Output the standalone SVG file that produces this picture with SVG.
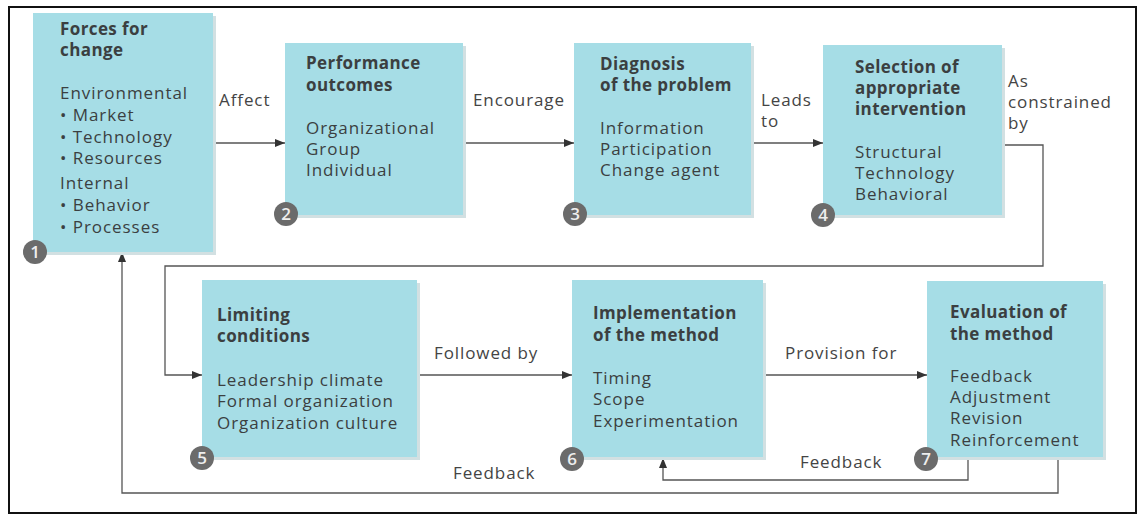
<svg xmlns="http://www.w3.org/2000/svg" width="1141" height="516" viewBox="0 0 1141 516">
<defs>
<style>
.box{fill:#a6dde6;}
.shadow{fill:#d2e0e2;}
.t{font-family:"Open Sans","Noto Sans",sans-serif;font-size:17px;letter-spacing:0.95px;fill:#3b3f41;}
.b{font-weight:bold;letter-spacing:0.4px;}
.lbl{font-family:"Open Sans","Noto Sans",sans-serif;font-size:17px;letter-spacing:0.9px;fill:#444;}
.num{fill:#6b6b6b;}
.nt{font-family:"Open Sans","Noto Sans",sans-serif;font-size:17px;font-weight:600;fill:#eeeeee;text-anchor:middle;}
.c{fill:none;stroke:#555;stroke-width:1.3;}
</style>
<marker id="ah" viewBox="0 0 10 8" refX="10" refY="4" markerWidth="10" markerHeight="8" markerUnits="userSpaceOnUse" orient="auto">
<path d="M0,0 L10,4 L0,8 z" fill="#333"/>
</marker>
</defs>
<rect x="9" y="7" width="1127" height="506" fill="#fff" stroke="#111" stroke-width="2"/>

<g id="connectors">
<line class="c" x1="213" y1="143" x2="285" y2="143" marker-end="url(#ah)"/>
<line class="c" x1="463" y1="143" x2="574" y2="143" marker-end="url(#ah)"/>
<line class="c" x1="751" y1="143" x2="823" y2="143" marker-end="url(#ah)"/>
<polyline class="c" points="1002,145 1043,145 1043,266 165,266 165,375 202,375" marker-end="url(#ah)"/>
<line class="c" x1="417" y1="375" x2="572" y2="375" marker-end="url(#ah)"/>
<line class="c" x1="763" y1="375" x2="927" y2="375" marker-end="url(#ah)"/>
<polyline class="c" points="968,457 968,480 663,480 663,458" marker-end="url(#ah)"/>
<polyline class="c" points="1058,457 1058,493 122,493 122,252" marker-end="url(#ah)"/>
<text class="lbl" x="219" y="106">Affect</text>
<text class="lbl" x="473" y="106">Encourage</text>
<text class="lbl" x="761" y="106">Leads</text>
<text class="lbl" x="761" y="127">to</text>
<text class="lbl" x="1008" y="87">As</text>
<text class="lbl" x="1008" y="108">constrained</text>
<text class="lbl" x="1008" y="129">by</text>
<text class="lbl" x="434" y="359">Followed by</text>
<text class="lbl" x="785" y="359">Provision for</text>
<text class="lbl" x="800" y="468">Feedback</text>
<text class="lbl" x="453" y="479">Feedback</text>
</g>

<g id="node1">
<rect class="shadow" x="36" y="16" width="180" height="239"/>
<rect class="box" x="33" y="13" width="180" height="239"/>
<text class="t b" x="60" y="35">Forces for</text>
<text class="t b" x="60" y="56">change</text>
<text class="t" x="60" y="99">Environmental</text>
<text class="t" x="60" y="121">• Market</text>
<text class="t" x="60" y="143">• Technology</text>
<text class="t" x="60" y="164">• Resources</text>
<text class="t" x="60" y="189">Internal</text>
<text class="t" x="60" y="211">• Behavior</text>
<text class="t" x="60" y="233">• Processes</text>
<circle class="num" cx="35" cy="252" r="12"/>
<text class="nt" x="35" y="258">1</text>
</g>

<g id="node2">
<rect class="shadow" x="288" y="46" width="178" height="172"/>
<rect class="box" x="285" y="43" width="178" height="172"/>
<text class="t b" x="306" y="69">Performance</text>
<text class="t b" x="306" y="91">outcomes</text>
<text class="t" x="306" y="134">Organizational</text>
<text class="t" x="306" y="155">Group</text>
<text class="t" x="306" y="176">Individual</text>
<circle class="num" cx="286" cy="214" r="12"/>
<text class="nt" x="286" y="220">2</text>
</g>

<g id="node3">
<rect class="shadow" x="577" y="46" width="177" height="172"/>
<rect class="box" x="574" y="43" width="177" height="172"/>
<text class="t b" x="600" y="70">Diagnosis</text>
<text class="t b" x="600" y="91">of the problem</text>
<text class="t" x="600" y="134">Information</text>
<text class="t" x="600" y="155">Participation</text>
<text class="t" x="600" y="176">Change agent</text>
<circle class="num" cx="575" cy="214" r="12"/>
<text class="nt" x="575" y="220">3</text>
</g>

<g id="node4">
<rect class="shadow" x="826" y="48" width="179" height="170"/>
<rect class="box" x="823" y="45" width="179" height="170"/>
<text class="t b" x="855" y="73">Selection of</text>
<text class="t b" x="855" y="94">appropriate</text>
<text class="t b" x="855" y="115">intervention</text>
<text class="t" x="855" y="158">Structural</text>
<text class="t" x="855" y="179">Technology</text>
<text class="t" x="855" y="200">Behavioral</text>
<circle class="num" cx="823" cy="215" r="12"/>
<text class="nt" x="823" y="221">4</text>
</g>

<g id="node5">
<rect class="shadow" x="205" y="283" width="215" height="177"/>
<rect class="box" x="202" y="280" width="215" height="177"/>
<text class="t b" x="217" y="321">Limiting</text>
<text class="t b" x="217" y="342">conditions</text>
<text class="t" x="217" y="386">Leadership climate</text>
<text class="t" x="217" y="407">Formal organization</text>
<text class="t" x="217" y="429">Organization culture</text>
<circle class="num" cx="202" cy="458" r="12"/>
<text class="nt" x="202" y="464">5</text>
</g>

<g id="node6">
<rect class="shadow" x="575" y="283" width="191" height="177"/>
<rect class="box" x="572" y="280" width="191" height="177"/>
<text class="t b" x="593" y="319">Implementation</text>
<text class="t b" x="593" y="341">of the method</text>
<text class="t" x="593" y="384">Timing</text>
<text class="t" x="593" y="405">Scope</text>
<text class="t" x="593" y="427">Experimentation</text>
<circle class="num" cx="572" cy="459" r="12"/>
<text class="nt" x="572" y="465">6</text>
</g>

<g id="node7">
<rect class="shadow" x="930" y="284" width="176" height="176"/>
<rect class="box" x="927" y="281" width="176" height="176"/>
<text class="t b" x="950" y="318">Evaluation of</text>
<text class="t b" x="950" y="340">the method</text>
<text class="t" x="950" y="382">Feedback</text>
<text class="t" x="950" y="403">Adjustment</text>
<text class="t" x="950" y="424">Revision</text>
<text class="t" x="950" y="446">Reinforcement</text>
<circle class="num" cx="926" cy="459" r="12"/>
<text class="nt" x="926" y="465">7</text>
</g>
</svg>
